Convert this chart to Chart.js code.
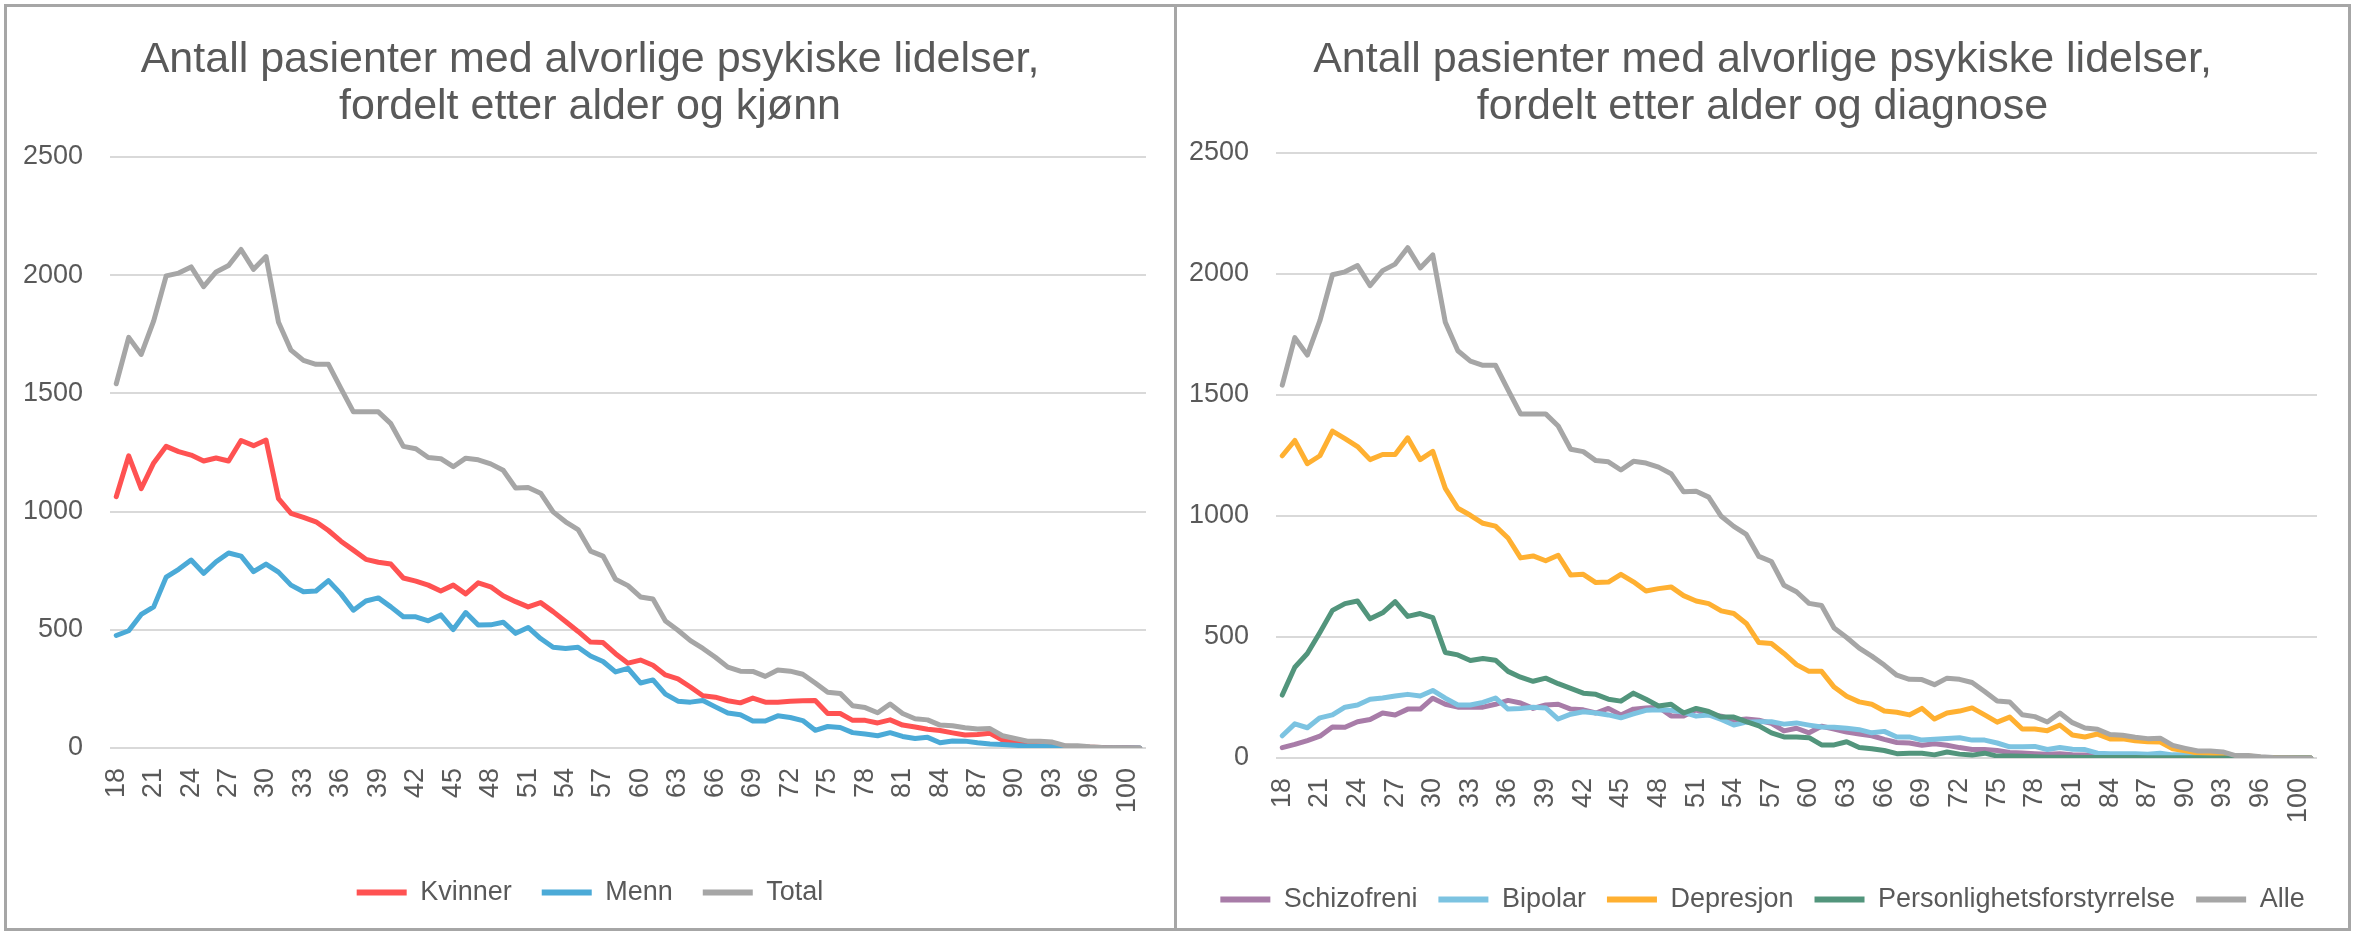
<!DOCTYPE html>
<html>
<head>
<meta charset="utf-8">
<script src="https://cdn.jsdelivr.net/npm/chart.js@4/dist/chart.umd.min.js"></script>
<style>
  body { margin: 0; background: #fff; width: 2354px; height: 933px; overflow: hidden; position: relative; }
  .panel { position: absolute; top: 4px; height: 927px; border: 3px solid #a6a6a6; box-sizing: border-box; }
  .box { position: absolute; }
</style>
</head>
<body>
<div class="panel" style="left:4px;width:1173px"></div>
<div class="panel" style="left:1174px;width:1177px"></div>
<div class="box" style="left:8px;top:8px;width:1164px;height:925px"><canvas id="leftChart"></canvas></div>
<div class="box" style="left:1180px;top:8px;width:1165px;height:918px"><canvas id="rightChart"></canvas></div>
<script>
var ctx_left = document.getElementById('leftChart');
var ctx_right = document.getElementById('rightChart');

// ages 18..98, then 100 and 101 (99 is not in the source table)
var ages = ['18','19','20','21','22','23','24','25','26','27','28','29','30','31','32','33','34','35','36','37',
  '38','39','40','41','42','43','44','45','46','47','48','49','50','51','52','53','54','55','56','57',
  '58','59','60','61','62','63','64','65','66','67','68','69','70','71','72','73','74','75','76','77',
  '78','79','80','81','82','83','84','85','86','87','88','89','90','91','92','93','94','95','96','97',
  '98','100','101'];

var y_ticks = [0, 500, 1000, 1500, 2000, 2500];

var kvinner = [1063,1236,1097,1206,1276,1254,1239,1214,1227,1214,1301,1279,1303,1055,993,976,957,920,875,837,
  798,786,778,719,706,689,664,689,652,699,682,644,619,597,615,577,535,493,448,446,
  399,359,372,350,309,292,258,221,215,200,191,211,194,194,198,200,201,146,146,117,
  117,106,119,97,89,79,74,64,55,57,62,34,23,13,10,7,7,5,3,2,
  1,1,0];

var menn = [476,496,565,597,723,756,795,739,788,825,812,746,778,744,689,661,664,708,652,583,
  622,635,597,555,555,538,563,501,573,520,521,532,485,510,463,426,421,426,389,366,
  322,337,275,288,228,198,194,201,174,148,141,114,114,136,129,116,75,91,87,65,
  59,52,65,49,40,45,22,30,29,22,17,15,12,7,7,5,0,0,0,0,
  0,0,0];

var total = [1541,1737,1665,1807,1997,2009,2035,1952,2014,2041,2109,2025,2079,1801,1683,1640,1623,1623,1521,1422,
  1422,1422,1372,1276,1266,1229,1224,1190,1226,1219,1202,1175,1100,1102,1078,999,957,924,833,812,
  714,687,639,630,537,498,454,421,384,342,325,324,303,330,325,312,275,236,231,179,
  171,149,186,146,124,119,97,94,86,80,82,52,40,29,29,25,10,10,5,2,
  1,0,0];

var schizofreni = [43,56,72,90,128,127,150,159,186,178,202,202,247,222,210,210,210,222,238,227,
  205,219,222,202,199,186,205,178,202,207,210,174,174,199,179,173,156,161,156,143,
  112,123,104,131,120,107,99,92,77,64,62,53,59,53,43,35,35,31,23,21,
  18,16,18,13,12,10,8,7,6,5,4,3,3,2,2,1,1,1,0,0,
  0,0,0];

var bipolar = [92,141,125,166,178,210,219,243,248,256,263,256,279,247,219,219,230,248,202,205,
  210,207,161,181,191,186,178,166,182,197,199,197,189,173,178,159,136,148,150,150,
  140,145,136,128,127,123,117,104,110,87,87,74,77,81,84,74,74,62,46,46,
  48,35,43,36,35,20,18,18,18,16,20,13,13,10,8,7,5,2,1,1,
  0,0,0];

var depresjon = [1249,1312,1216,1249,1351,1320,1287,1233,1254,1254,1323,1233,1267,1114,1032,1003,970,958,909,827,
  835,815,838,756,759,725,727,759,728,690,700,707,671,649,638,608,597,556,477,473,
  432,386,358,358,293,255,232,222,194,189,178,205,161,186,194,207,178,148,169,120,
  120,113,136,95,87,99,79,79,71,67,66,38,30,21,20,16,5,8,3,2,
  1,0,0];

var personlighet = [260,375,432,519,610,638,649,575,600,646,585,597,580,436,426,403,411,404,358,334,
  317,330,307,288,268,263,243,235,268,243,215,222,186,205,192,169,169,150,133,104,
  87,87,84,54,54,67,43,38,31,18,20,20,13,25,16,12,20,8,8,7,
  5,3,3,3,2,2,2,2,2,1,1,1,1,1,0,0,0,0,0,0,
  0,0,0];

// "Alle" is the same count as "Total" in the left chart
var alle = total;

var font_family = "'Liberation Sans', Arial, sans-serif";
var text_color = '#595959';

function series(label, data, color, i, n) {
  return {
    label: label,
    data: data,
    borderColor: color,
    backgroundColor: color,
    borderWidth: 5,
    pointRadius: 0,
    tension: 0,
    borderJoinStyle: 'round',
    borderCapStyle: 'round',
    yAxisID: 'y',
    order: n - i
  };
}

function legend_labels(chart) {
  var items = Chart.defaults.plugins.legend.labels.generateLabels(chart);
  items.forEach(function(item) {
    item.fillStyle = item.strokeStyle;
    item.lineWidth = 0;
  });
  return items;
}

function make_options(title, cfg) {
  return {
    responsive: true,
    maintainAspectRatio: false,
    animation: false,
    layout: { padding: { left: 0, top: 0, right: 0, bottom: cfg.pad_bottom } },
    plugins: {
      title: {
        display: true,
        text: title,
        color: text_color,
        font: { family: font_family, size: 43, weight: 'normal', lineHeight: 1.105 },
        padding: { top: 28, bottom: cfg.title_bottom }
      },
      legend: {
        position: 'bottom',
        labels: {
          boxWidth: cfg.box_width,
          boxHeight: 6,
          padding: cfg.legend_pad,
          color: text_color,
          font: { family: font_family, size: 27 },
          generateLabels: legend_labels,
          sort: function(a, b) { return a.datasetIndex - b.datasetIndex; }
        }
      },
      tooltip: { enabled: false }
    },
    scales: {
      x: {
        offset: true,
        grid: { display: false, drawTicks: false },
        border: { display: false },
        ticks: {
          autoSkip: false,
          minRotation: 90,
          maxRotation: 90,
          padding: 20,
          color: text_color,
          font: { family: font_family, size: 27 },
          callback: function(value, index) {
            return index % 3 === 0 ? this.getLabelForValue(value) : '';
          }
        },
        afterFit: function(scale) {
          scale.height = cfg.x_height;
          scale.paddingLeft = 0;
          scale.paddingRight = 0;
        }
      },
      y: {
        position: 'left',
        min: y_ticks[0],
        max: y_ticks[y_ticks.length - 1],
        grid: { color: '#d9d9d9', lineWidth: 2, drawTicks: false },
        border: { display: false },
        ticks: {
          stepSize: y_ticks[1] - y_ticks[0],
          padding: 27,
          color: text_color,
          font: { family: font_family, size: 27 },
          callback: function(value) { return String(value); }
        },
        afterFit: function(scale) { scale.width = cfg.y_width; }
      },
      // empty axis on the right, only to keep space after the plot
      gap: {
        position: 'right',
        grid: { display: false, drawTicks: false },
        border: { display: false },
        ticks: { display: false },
        afterFit: function(scale) { scale.width = cfg.gap_right; }
      }
    }
  };
}

var data_left = {
  labels: ages,
  datasets: [
    series('Kvinner', kvinner, '#ff5252', 0, 3),
    series('Menn', menn, '#4baad7', 1, 3),
    series('Total', total, '#a6a6a6', 2, 3)
  ]
};

var data_right = {
  labels: ages,
  datasets: [
    series('Schizofreni', schizofreni, '#a87ca8', 0, 5),
    series('Bipolar', bipolar, '#7cc3e1', 1, 5),
    series('Depresjon', depresjon, '#ffb031', 2, 5),
    series('Personlighetsforstyrrelse', personlighet, '#52957c', 3, 5),
    series('Alle', alle, '#a6a6a6', 4, 5)
  ]
};

var leftChart = new Chart(ctx_left, {
  type: 'line',
  data: data_left,
  options: make_options(['Antall pasienter med alvorlige psykiske lidelser,', 'fordelt etter alder og kjønn'], {
    gap_right: 26, pad_bottom: 17, title_bottom: 26, x_height: 101, y_width: 102, box_width: 50, legend_pad: 30
  })
});

var rightChart = new Chart(ctx_right, {
  type: 'line',
  data: data_right,
  options: make_options(['Antall pasienter med alvorlige psykiske lidelser,', 'fordelt etter alder og diagnose'], {
    gap_right: 28, pad_bottom: 3, title_bottom: 22, x_height: 107, y_width: 96, box_width: 50, legend_pad: 21
  })
});
</script>
</body>
</html>
